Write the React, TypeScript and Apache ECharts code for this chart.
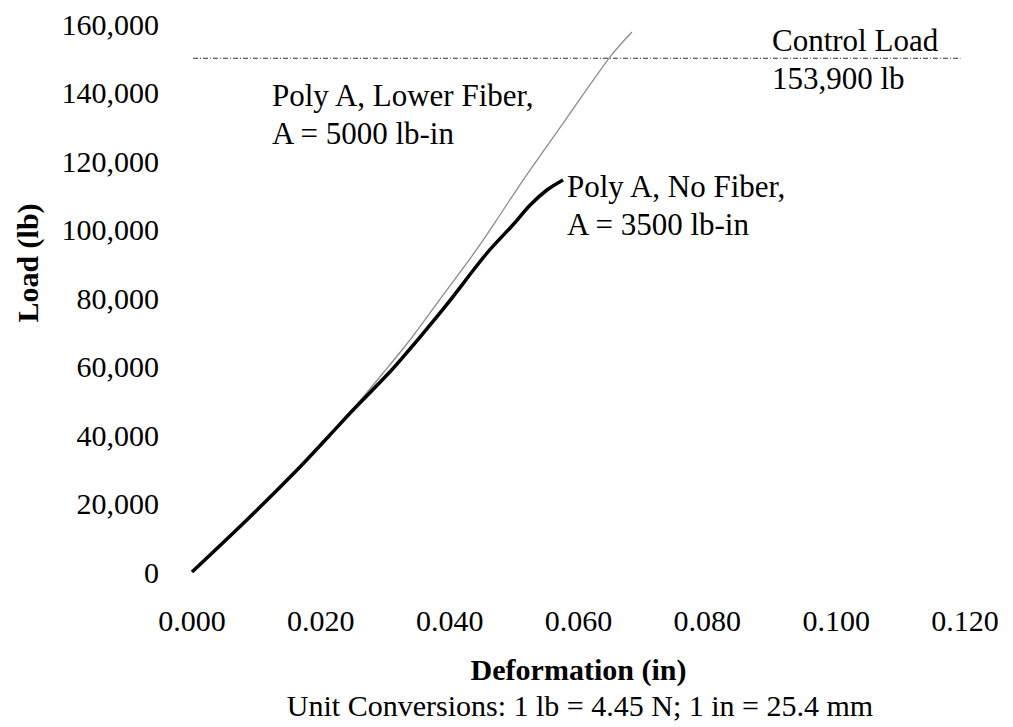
import React, { useEffect, useRef } from "react";
import * as echarts from "echarts";

// Deformation (in) and Load (lb)
const noFiberX = [0, 0.0085, 0.0163, 0.0214, 0.025, 0.0307, 0.0354, 0.0396, 0.0458, 0.0498, 0.0525, 0.0551, 0.0576];
const noFiberY = [0, 15180, 29780, 40000, 47300, 58390, 68610, 78200, 93140, 101320, 107150, 111530, 114450];

const lowerFiberX = [0, 0.0085, 0.0163, 0.0214, 0.025, 0.0298, 0.0342, 0.0384, 0.0438, 0.0475, 0.0514, 0.0576, 0.0649, 0.0683];
const lowerFiberY = [0, 15180, 29780, 40000, 47590, 58390, 68610, 79410, 93140, 103360, 114450, 131000, 150400, 157660];

const controlX = [-0.0014, 0.1193];
const controlY = [150000, 150000];

const xTicks = { min: 0, max: 0.12, interval: 0.02 };
const yTicks = { min: 0, max: 160000, interval: 20000 };

const FONT = '"Liberation Serif", "Times New Roman", serif';

const zip = (xs: number[], ys: number[]) => xs.map((x, i) => [x, ys[i]]);

export default function App() {
  const ref = useRef<HTMLDivElement>(null);
  useEffect(() => {
    if (!ref.current) return;
    const chart = echarts.init(ref.current, undefined, { renderer: "svg" });
    chart.setOption({
      animation: false,
      backgroundColor: "#fff",
      grid: { left: 192, right: 48, top: 24, bottom: 155 },
      xAxis: {
        type: "value",
        ...xTicks,
        axisLine: { show: false },
        axisTick: { show: false },
        splitLine: { show: false },
        axisLabel: {
          color: "#000",
          fontFamily: FONT,
          fontSize: 30,
          margin: 33,
          formatter: (v: number) => v.toFixed(3),
        },
        name: "Deformation (in)",
        nameLocation: "middle",
        nameGap: 82,
        nameTextStyle: { color: "#000", fontFamily: FONT, fontSize: 30, fontWeight: "bold" },
      },
      yAxis: {
        type: "value",
        ...yTicks,
        axisLine: { show: false },
        axisTick: { show: false },
        splitLine: { show: false },
        axisLabel: {
          color: "#000",
          fontFamily: FONT,
          fontSize: 30,
          margin: 33,
          formatter: (v: number) => v.toLocaleString("en-US"),
        },
      },
      series: [
        {
          type: "line",
          name: "Control Load",
          data: zip(controlX, controlY),
          symbol: "none",
          clip: false,
          lineStyle: { color: "#333", width: 1.2, type: [5, 2, 1, 2] },
        },
        {
          type: "line",
          name: "Poly A, Lower Fiber",
          data: zip(lowerFiberX, lowerFiberY),
          symbol: "none",
          smooth: 0.3,
          lineStyle: { color: "#8c8c8c", width: 1.3 },
        },
        {
          type: "line",
          name: "Poly A, No Fiber",
          data: zip(noFiberX, noFiberY),
          symbol: "none",
          smooth: 0.3,
          lineStyle: { color: "#000", width: 3.5 },
        },
      ],
      graphic: [
        {
          type: "text",
          x: 272,
          y: 76,
          style: {
            text: "Poly A, Lower Fiber,\nA = 5000 lb-in",
            font: `31px ${FONT}`,
            fill: "#000",
            lineHeight: 38,
            verticalAlign: "top",
          },
        },
        {
          type: "text",
          x: 567,
          y: 167,
          style: {
            text: "Poly A, No Fiber,\nA = 3500 lb-in",
            font: `31px ${FONT}`,
            fill: "#000",
            lineHeight: 38,
            verticalAlign: "top",
          },
        },
        {
          type: "text",
          x: 772,
          y: 21,
          style: {
            text: "Control Load\n153,900 lb",
            font: `31px ${FONT}`,
            fill: "#000",
            lineHeight: 38,
            verticalAlign: "top",
          },
        },
        {
          type: "text",
          x: 27,
          y: 263,
          rotation: Math.PI / 2,
          style: {
            text: "Load (lb)",
            font: `bold 30px ${FONT}`,
            fill: "#000",
            align: "center",
            verticalAlign: "middle",
          },
        },
        {
          type: "text",
          x: 580,
          y: 705,
          style: {
            text: "Unit Conversions: 1 lb = 4.45 N; 1 in = 25.4 mm",
            font: `30px ${FONT}`,
            fill: "#000",
            align: "center",
            verticalAlign: "middle",
          },
        },
      ],
    });
    return () => chart.dispose();
  }, []);
  return (
    <div
      ref={ref}
      style={{ position: "fixed", left: 0, top: 0, width: 1013, height: 727, background: "#fff" }}
    />
  );
}
